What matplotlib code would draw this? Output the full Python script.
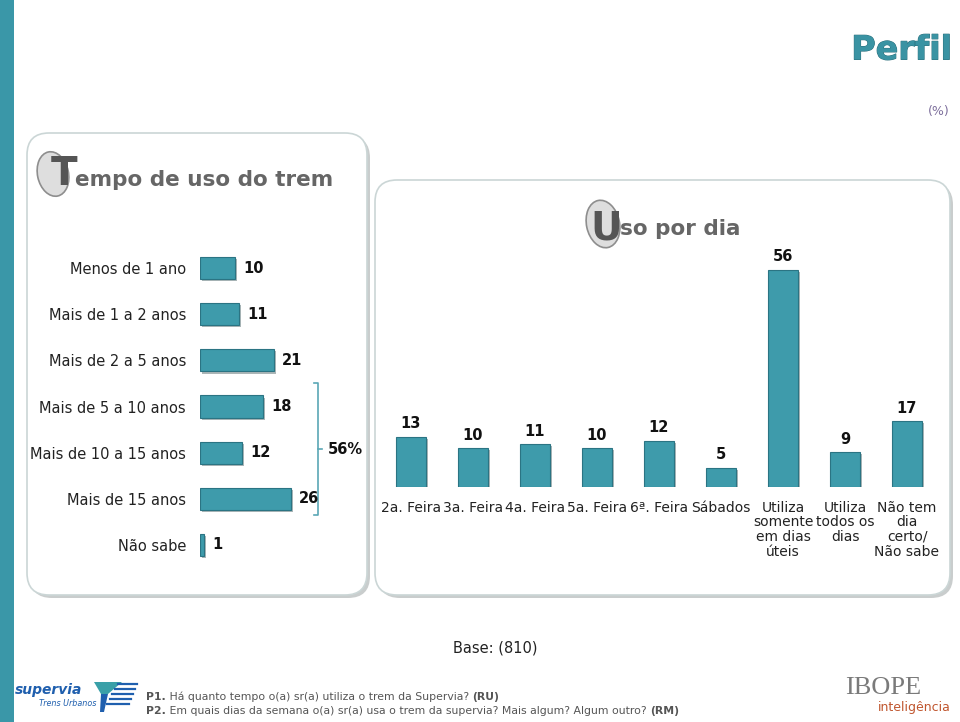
import matplotlib
matplotlib.use("Agg")
import matplotlib.pyplot as plt
import matplotlib.patheffects as pe
from matplotlib.patches import FancyBboxPatch, Rectangle, Ellipse, Polygon
import numpy as np

# data
tempo_labels = ['Menos de 1 ano', 'Mais de 1 a 2 anos', 'Mais de 2 a 5 anos',
                'Mais de 5 a 10 anos', 'Mais de 10 a 15 anos', 'Mais de 15 anos',
                'Não sabe']
tempo_values = [10, 11, 21, 18, 12, 26, 1]

dias_labels = ['2a. Feira', '3a. Feira', '4a. Feira', '5a. Feira', '6ª. Feira',
               'Sábados', 'Utiliza\nsomente\nem dias\núteis',
               'Utiliza\ntodos os\ndias', 'Não tem\ndia\ncerto/\nNão sabe']
dias_values = [13, 10, 11, 10, 12, 5, 56, 9, 17]

base_n = 810

W, H = 960, 722
teal = '#3e9bab'
teal_edge = '#2b7483'
grey_title = '#666666'

fig = plt.figure(figsize=(W/100, H/100), dpi=100)
fig.patch.set_facecolor('white')

# overlay axes in pixel coordinates for the slide decoration
bg = fig.add_axes([0, 0, 1, 1], zorder=0)
bg.set_xlim(0, W)
bg.set_ylim(H, 0)
bg.axis('off')

bg.add_patch(Rectangle((0, 0), 14, H, color='#3a97a8', lw=0))

def panel(x, y, w, h):
    bg.add_patch(FancyBboxPatch((x+3, y+3), w, h, boxstyle='round,pad=0,rounding_size=22',
                                facecolor='#9ea4a4', edgecolor='none', alpha=0.55))
    bg.add_patch(FancyBboxPatch((x, y), w, h, boxstyle='round,pad=0,rounding_size=22',
                                facecolor='white', edgecolor='#cbd6d6', lw=1.2))

panel(27, 133, 340, 462)
panel(375, 180, 575, 415)

# titles with the big initial letter in a grey bubble
def bubble_title(ex, ey, ew, eh, lx, ly, letter, rest, tx, ty):
    bg.add_patch(Ellipse((ex, ey), ew, eh, angle=-12, facecolor='#dedede',
                         edgecolor='#8e8e8e', lw=1.2))
    bg.text(lx, ly, letter, fontsize=28, fontweight='bold', color='#555555',
            ha='center', va='center')
    bg.text(tx, ty, rest, fontsize=15.5, fontweight='bold', color=grey_title,
            ha='left', va='center')

bubble_title(53, 174, 31, 45, 64, 174, 'T', 'empo de uso do trem', 75, 180)
bubble_title(603, 224, 33, 48, 606, 229, 'U', 'so por dia', 620, 229)

bg.text(952, 50, 'Perfil', fontsize=24, fontweight='bold', color='#3a93a3', ha='right',
        va='center', path_effects=[pe.withStroke(linewidth=0.7, foreground='#276b78')])
bg.text(950, 112, '(%)', fontsize=9, color='#7d6f9c', ha='right', va='center')

shadow = [pe.SimplePatchShadow(offset=(1.5, -1.5), alpha=0.35), pe.Normal()]

# horizontal bars: tempo de uso
ax1 = fig.add_axes([200/W, 1 - 568/H, 160/W, 323/H], zorder=2)
ax1.patch.set_alpha(0)
y = np.arange(len(tempo_values))
bars = ax1.barh(y, tempo_values, height=0.48, color=teal, edgecolor=teal_edge, lw=0.8)
for b in bars:
    b.set_path_effects(shadow)
for i, v in enumerate(tempo_values):
    ax1.annotate(str(v), (v, i), xytext=(6, 0), textcoords='offset points',
                 ha='left', va='center', fontsize=10.5, fontweight='bold', color='#111111')
ax1.set_xlim(0, 160/3.5)
ax1.set_ylim(len(tempo_values) - 0.5, -0.5)
ax1.set_yticks(y)
ax1.set_yticklabels(tempo_labels, fontsize=10.5, color='#222222')
ax1.tick_params(axis='y', length=0, pad=10)
ax1.set_xticks([])
for s in ax1.spines.values():
    s.set_visible(False)

# bracket for the 56%
bx = 318
bg.plot([bx - 4, bx, bx, bx - 4], [383, 383, 515, 515], color='#5aa7b5', lw=1.2)
bg.plot([bx, bx + 4], [449, 449], color='#5aa7b5', lw=1.2)
bg.text(328, 449, f'{sum(tempo_values[3:6])}%', fontsize=10.5, fontweight='bold',
        color='#111111', ha='left', va='center')

# vertical bars: uso por dia
ax2 = fig.add_axes([380/W, 1 - 487/H, 558/W, 237/H], zorder=2)
ax2.patch.set_alpha(0)
x = np.arange(len(dias_values))
bars = ax2.bar(x, dias_values, width=0.48, color=teal, edgecolor=teal_edge, lw=0.8)
for b in bars:
    b.set_path_effects(shadow)
for i, v in enumerate(dias_values):
    ax2.annotate(str(v), (i, v), xytext=(0, 4), textcoords='offset points',
                 ha='center', va='bottom', fontsize=10.5, fontweight='bold', color='#111111')
ax2.set_xlim(-0.5, len(dias_values) - 0.5)
ax2.set_ylim(0, 237/3.875)
ax2.set_xticks(x)
ax2.set_xticklabels(dias_labels, fontsize=10, color='#222222', linespacing=1.05)
ax2.tick_params(axis='x', length=0, pad=10)
ax2.set_yticks([])
for s in ax2.spines.values():
    s.set_visible(False)

# footer
bg.text(495, 648, f'Base: ({base_n})', fontsize=10.5, color='#222222', ha='center', va='center')

renderer = fig.canvas.get_renderer()

def rich_line(x0, y0, pieces):
    xc = x0
    for s, bold in pieces:
        t = bg.text(xc, y0, s, fontsize=7.8, color='#555555', ha='left', va='center',
                    fontweight='bold' if bold else 'normal')
        xc += t.get_window_extent(renderer).width

rich_line(146, 697, [('P1.', True), (' Há quanto tempo o(a) sr(a) utiliza o trem da Supervia? ', False),
                     ('(RU)', True)])
rich_line(146, 711, [('P2.', True),
                     (' Em quais dias da semana o(a) sr(a) usa o trem da supervia? Mais algum? Algum outro? ', False),
                     ('(RM)', True)])

# supervia logo
blue = '#1f5fae'
bg.text(15, 690, 'supervia', fontsize=10, fontweight='bold', style='italic',
        color=blue, ha='left', va='center')
bg.text(39, 704, 'Trens Urbanos', fontsize=5.8, style='italic',
        color=blue, ha='left', va='center')
bg.add_patch(Polygon([(94, 682), (122, 682), (108, 694), (101, 694)], closed=True,
                     color='#3aa0a8', lw=0))
bg.add_patch(Polygon([(101, 694), (108, 694), (104, 712), (100, 712)], closed=True,
                     color=blue, lw=0))
for k, yy in enumerate([684, 689, 694, 699, 704]):
    bg.plot([118 - k*2.8, 137 - k*2.0], [yy, yy], color=blue, lw=1.6)

# IBOPE logo
bg.text(921, 688, 'IBOPE', family='Liberation Serif', fontsize=19, color='#7a7a7a',
        ha='right', va='center')
bg.text(951, 707, 'inteligência', fontsize=9, color='#c0562f', ha='right', va='center')

fig.savefig('out.png', dpi=100)
